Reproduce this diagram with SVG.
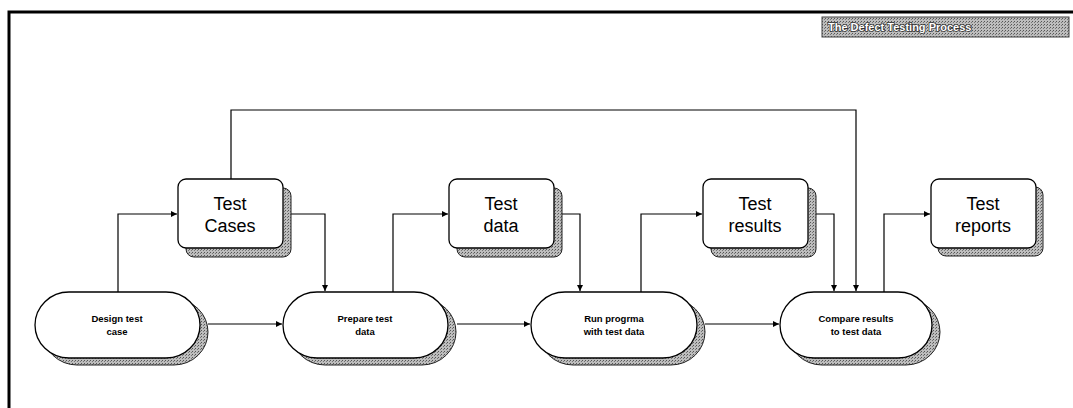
<svg xmlns="http://www.w3.org/2000/svg" width="1073" height="408" viewBox="0 0 1073 408">
<style>
.frame{fill:none;stroke:#000;stroke-width:3}
.box{fill:#fff;stroke:#000;stroke-width:1.3}
.shadow{stroke:#222;stroke-width:1}
.big{font-family:"Liberation Sans",Arial,sans-serif;font-size:18px;fill:#000;text-anchor:middle}
.small{font-family:"Liberation Sans",Arial,sans-serif;font-size:9.5px;font-weight:bold;fill:#000;text-anchor:middle}
.conn{fill:none;stroke:#000;stroke-width:1.2}
.title{font-family:"Liberation Sans",Arial,sans-serif;font-size:11px;font-weight:bold;fill:#fff;stroke:#333;stroke-width:1.6;paint-order:stroke}
</style>
<defs>
<pattern id="dots" width="3" height="3" patternUnits="userSpaceOnUse">
<rect width="3" height="3" fill="#bdbdbd"/>
<rect width="1" height="1" fill="#555"/>
<rect x="2" y="1" width="1" height="1" fill="#777"/>
</pattern>
<marker id="arr" markerWidth="7" markerHeight="6" refX="6" refY="3" orient="auto" markerUnits="userSpaceOnUse">
<path d="M0,0 L6,3 L0,6 z" fill="#000"/>
</marker>
</defs>
<rect width="1073" height="408" fill="#fff"/>
<path class="frame" d="M9,408 V12 H1073"/>
<g id="title">
<rect x="822" y="17" width="247" height="20" fill="url(#dots)" stroke="#444" stroke-width="1"/>
<text class="title" x="828" y="31">The Defect Testing Process</text>
</g>
<g id="connectors">
<path class="conn" d="M118,292 V214 H177" marker-end="url(#arr)"/>
<path class="conn" d="M291,214 H325 V291" marker-end="url(#arr)"/>
<path class="conn" d="M393,292 V214 H448" marker-end="url(#arr)"/>
<path class="conn" d="M562,214 H580 V291" marker-end="url(#arr)"/>
<path class="conn" d="M641,292 V214 H702" marker-end="url(#arr)"/>
<path class="conn" d="M815,214 H834 V291" marker-end="url(#arr)"/>
<path class="conn" d="M231,179 V110 H856 V291" marker-end="url(#arr)"/>
<path class="conn" d="M884,292 V214 H930" marker-end="url(#arr)"/>
<path class="conn" d="M208,324 H282" marker-end="url(#arr)"/>
<path class="conn" d="M457,324 H530" marker-end="url(#arr)"/>
<path class="conn" d="M705,324 H779" marker-end="url(#arr)"/>
</g>
<g id="test-cases">
<rect class="shadow" x="186" y="188" width="105" height="69" rx="8" fill="url(#dots)"/>
<rect class="box" x="178" y="179" width="105" height="69" rx="8"/>
<text class="big" x="230" y="210">Test</text>
<text class="big" x="230" y="232">Cases</text>
</g>
<g id="test-data">
<rect class="shadow" x="457" y="188" width="105" height="69" rx="8" fill="url(#dots)"/>
<rect class="box" x="449" y="179" width="105" height="69" rx="8"/>
<text class="big" x="501" y="210">Test</text>
<text class="big" x="501" y="232">data</text>
</g>
<g id="test-results">
<rect class="shadow" x="711" y="188" width="105" height="69" rx="8" fill="url(#dots)"/>
<rect class="box" x="703" y="179" width="105" height="69" rx="8"/>
<text class="big" x="755" y="210">Test</text>
<text class="big" x="755" y="232">results</text>
</g>
<g id="test-reports">
<rect class="shadow" x="938" y="187" width="105" height="69" rx="8" fill="url(#dots)"/>
<rect class="box" x="931" y="179" width="105" height="69" rx="8"/>
<text class="big" x="983" y="210">Test</text>
<text class="big" x="983" y="232">reports</text>
</g>
<g id="design-test-case">
<rect class="shadow" x="43" y="299" width="165" height="66" rx="34" ry="33" fill="url(#dots)"/>
<rect class="box" x="35" y="292" width="165" height="66" rx="34" ry="33"/>
<text class="small" x="117" y="322">Design test</text>
<text class="small" x="117" y="335">case</text>
</g>
<g id="prepare-test-data">
<rect class="shadow" x="291" y="299" width="165" height="66" rx="34" ry="33" fill="url(#dots)"/>
<rect class="box" x="283" y="292" width="165" height="66" rx="34" ry="33"/>
<text class="small" x="365" y="322">Prepare test</text>
<text class="small" x="365" y="335">data</text>
</g>
<g id="run-program">
<rect class="shadow" x="539" y="299" width="166" height="66" rx="34" ry="33" fill="url(#dots)"/>
<rect class="box" x="531" y="292" width="166" height="66" rx="34" ry="33"/>
<text class="small" x="614" y="322">Run progrma</text>
<text class="small" x="614" y="335">with test data</text>
</g>
<g id="compare-results">
<rect class="shadow" x="788" y="299" width="152" height="66" rx="34" ry="33" fill="url(#dots)"/>
<rect class="box" x="780" y="292" width="152" height="66" rx="34" ry="33"/>
<text class="small" x="856" y="322">Compare results</text>
<text class="small" x="856" y="335">to test data</text>
</g>
</svg>
